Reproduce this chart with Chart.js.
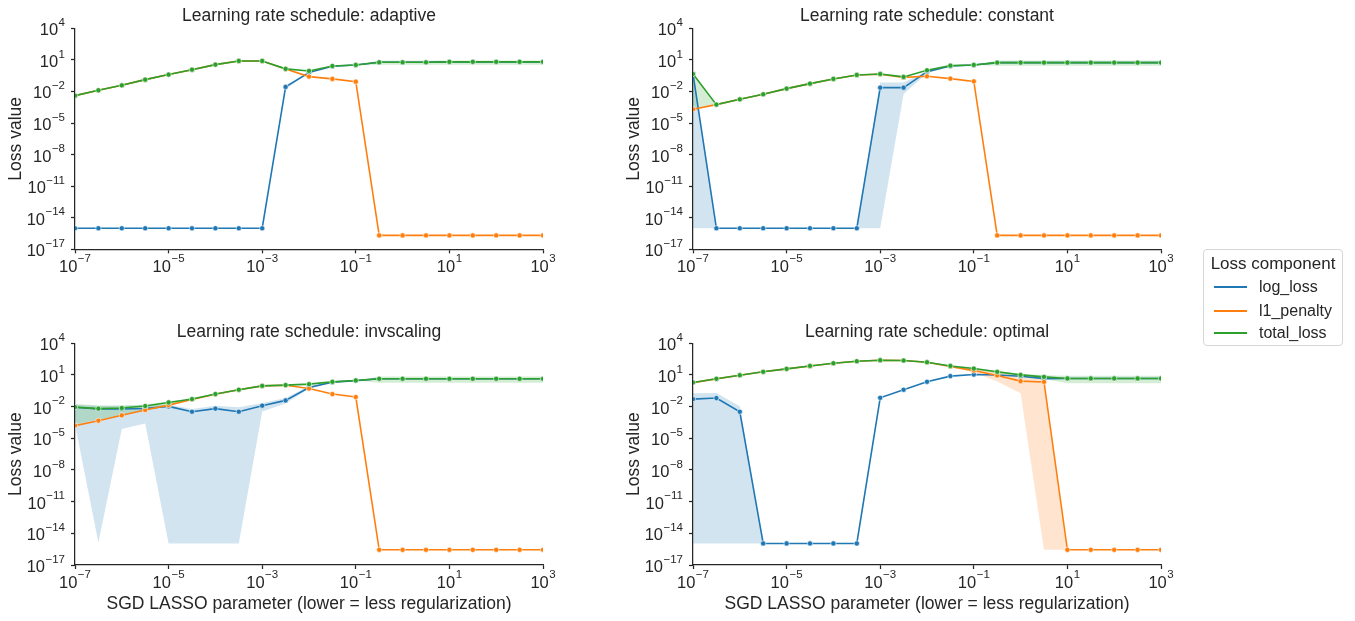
<!DOCTYPE html>
<html>
<head>
<meta charset="utf-8">
<script src="https://cdn.jsdelivr.net/npm/chart.js@4.4.1/dist/chart.umd.min.js"></script>
<style>
  html, body { margin: 0; padding: 0; background: #fff; }
  body { width: 1355px; height: 621px; position: relative; overflow: hidden;
         font-family: "Liberation Sans", Arial, sans-serif; color: #262626; }
  canvas.panel { position: absolute; }
  #legend { position: absolute; left: 1203px; top: 249px; width: 140px; height: 97px;
            box-sizing: border-box; border: 1px solid #d6d6d6; border-radius: 4px; background: #fff; }
  #legend .ttl { position: absolute; left: 0; right: 0; top: 3px; text-align: center; font-size: 17px; line-height: 22px; }
  #legend .row { position: absolute; left: 0; right: 0; height: 20px; }
  #legend .swatch { position: absolute; left: 10px; top: 9px; width: 33px; height: 2px; }
  #legend .lbl { position: absolute; left: 55px; top: 0; font-size: 16px; line-height: 20px; white-space: nowrap; }
</style>
</head>
<body>
<canvas id="c0" class="panel"></canvas>
<canvas id="c1" class="panel"></canvas>
<canvas id="c2" class="panel"></canvas>
<canvas id="c3" class="panel"></canvas>
<div id="legend"></div>
<script>
// Regularization strengths (half-decade grid)
const alphas = [1e-7, 3.162e-7, 1e-6, 3.162e-6, 1e-5, 3.162e-5, 1e-4, 3.162e-4, 1e-3, 3.162e-3,
                1e-2, 3.162e-2, 0.1, 0.3162, 1, 3.162, 10, 31.62, 100, 316.2, 1000];
const xTickValues = [1e-7, 1e-5, 1e-3, 1e-1, 1e1, 1e3];
const yTickValues = [1e4, 1e1, 1e-2, 1e-5, 1e-8, 1e-11, 1e-14, 1e-17];
const seriesNames = ['log_loss', 'l1_penalty', 'total_loss'];
const scheduleNames = ['adaptive', 'constant', 'invscaling', 'optimal'];

// adaptive
const adaptiveLog   = [1e-15, 1e-15, 1e-15, 1e-15, 1e-15, 1e-15, 1e-15, 1e-15, 1e-15, 0.027, 0.63, 2.48, 3.22, 5.9, 5.9, 5.9, 6.5, 6.5, 6.5, 6.5, 6.5];
const adaptiveL1    = [0.0040, 0.0129, 0.038, 0.132, 0.40, 1.17, 3.55, 7.9, 7.9, 1.38, 0.257, 0.155, 0.085, 2.1e-16, 2.1e-16, 2.1e-16, 2.1e-16, 2.1e-16, 2.1e-16, 2.1e-16, 2.1e-16];
const adaptiveTotal = [0.0040, 0.0129, 0.038, 0.132, 0.40, 1.17, 3.55, 7.9, 7.9, 1.40, 0.89, 2.63, 3.31, 5.9, 5.9, 5.9, 6.5, 6.5, 6.5, 6.5, 6.5];
const adaptiveLogLo   = [null, null, null, null, null, null, null, null, null, 0.016, null, null, null, null, null, null, null, null, null, null, null];
const adaptiveLogHi   = [null, null, null, null, null, null, null, null, null, 0.042, null, null, null, null, null, null, null, null, null, null, null];
const adaptiveTotalLo = [null, null, null, null, null, null, null, null, null, null, null, null, null, 3.4, 3.4, 3.4, 3.4, 3.4, 3.4, 3.4, 3.4];
const adaptiveTotalHi = [null, null, null, null, null, null, null, null, null, null, null, null, null, 8.6, 8.6, 8.6, 8.6, 8.6, 8.6, 8.6, 8.6];

// constant
const constantLog   = [0.457, 1e-15, 1e-15, 1e-15, 1e-15, 1e-15, 1e-15, 1e-15, 0.023, 0.023, 0.75, 2.65, 3.22, 5.5, 5.5, 5.5, 5.5, 5.5, 5.5, 5.5, 5.5];
const constantL1    = [2.0e-4, 5.6e-4, 1.78e-3, 5.4e-3, 0.0186, 0.055, 0.155, 0.37, 0.434, 0.217, 0.275, 0.166, 0.091, 2.1e-16, 2.1e-16, 2.1e-16, 2.1e-16, 2.1e-16, 2.1e-16, 2.1e-16, 2.1e-16];
const constantTotal = [0.457, 5.6e-4, 1.78e-3, 5.4e-3, 0.0186, 0.055, 0.155, 0.37, 0.457, 0.24, 1.02, 2.82, 3.31, 5.5, 5.5, 5.5, 5.5, 5.5, 5.5, 5.5, 5.5];
const constantLogLo   = [1e-15, null, null, null, null, null, null, null, 1e-15, 0.0058, 0.55, null, null, null, null, null, null, null, null, null, null];
const constantLogHi   = [0.6, null, null, null, null, null, null, null, 0.069, 0.069, 0.9, null, null, null, null, null, null, null, null, null, null];
const constantTotalLo = [2.5e-4, null, null, null, null, null, null, null, null, null, null, null, null, 2.8, 2.8, 2.8, 2.8, 2.8, 2.8, 2.8, 2.8];
const constantTotalHi = [0.6, null, null, null, null, null, null, null, null, null, null, null, null, 8.5, 8.5, 8.5, 8.5, 8.5, 8.5, 8.5, 8.5];

// invscaling
const invscalingLog   = [8.9e-3, 6.0e-3, 6.0e-3, 6.7e-3, 0.0105, 0.0033, 0.0065, 0.0033, 0.0123, 0.039, 0.66, 2.09, 2.94, 4.37, 4.37, 4.37, 4.37, 4.37, 4.37, 4.37, 4.37];
const invscalingL1    = [1.6e-4, 4.7e-4, 1.5e-3, 4.8e-3, 0.014, 0.048, 0.149, 0.40, 0.92, 1.06, 0.52, 0.155, 0.081, 2.75e-16, 2.75e-16, 2.75e-16, 2.75e-16, 2.75e-16, 2.75e-16, 2.75e-16, 2.75e-16];
const invscalingTotal = [9.1e-3, 6.5e-3, 7.4e-3, 0.0115, 0.025, 0.052, 0.155, 0.40, 0.93, 1.10, 1.35, 2.24, 3.02, 4.37, 4.37, 4.37, 4.37, 4.37, 4.37, 4.37, 4.37];
const invscalingLogLo   = [2e-4, 1.35e-15, 7.8e-5, 2.5e-4, 1.1e-15, 1.1e-15, 1.1e-15, 1.1e-15, 3.5e-3, 0.02, 0.5, null, null, null, null, null, null, null, null, null, null];
const invscalingLogHi   = [0.014, 0.012, 0.012, 0.013, 0.016, 0.0059, 0.0123, 0.009, 0.022, 0.065, 0.85, null, null, null, null, null, null, null, null, null, null];
const invscalingTotalLo = [2.2e-4, 6e-4, 1.5e-3, 4.5e-3, 0.016, null, null, null, null, null, null, null, null, 1.8, 1.8, 1.8, 1.8, 1.8, 1.8, 1.8, 1.8];
const invscalingTotalHi = [0.019, 0.0125, 0.013, 0.016, 0.032, null, null, null, null, null, null, null, null, 7.2, 7.2, 7.2, 7.2, 7.2, 7.2, 7.2, 7.2];

// optimal
const optimalLog   = [0.052, 0.065, 0.0033, 1.1e-15, 1.1e-15, 1.1e-15, 1.1e-15, 1.1e-15, 0.069, 0.40, 2.24, 7.8, 11.0, 10.0, 7.5, 4.5, 4.7, 4.7, 4.7, 4.7, 4.7];
const optimalL1    = [1.9, 4.3, 9.5, 20, 38, 72, 129, 200, 251, 234, 160, 64, 26, 9.0, 2.6, 2.2, 2.75e-16, 2.75e-16, 2.75e-16, 2.75e-16, 2.75e-16];
const optimalTotal = [1.95, 4.37, 9.5, 20, 38, 72, 129, 200, 251, 234, 162, 72, 41, 20, 10.2, 6.6, 4.7, 4.7, 4.7, 4.7, 4.7];
const optimalLogLo   = [1.1e-15, 1.1e-15, 1.1e-15, null, null, null, null, null, null, null, null, null, null, null, null, null, null, null, null, null, null];
const optimalLogHi   = [0.19, 0.2, 0.011, null, null, null, null, null, null, null, null, null, null, null, null, null, null, null, null, null, null];
const optimalL1Lo    = [null, null, null, null, null, null, null, null, null, null, null, 55, 18, 2.4, 0.19, 2.75e-16, null, null, null, null, null];
const optimalL1Hi    = [null, null, null, null, null, null, null, null, null, null, null, 75, 40, 20, 7.2, 3.5, null, null, null, null, null];
const optimalTotalLo = [null, null, null, null, null, null, null, null, null, null, 150, 62, 33, 14, 7, 4.2, 1.6, 1.6, 1.6, 1.6, 1.6];
const optimalTotalHi = [null, null, null, null, null, null, null, null, null, null, 175, 80, 48, 24, 13, 9.5, 8.3, 8.3, 8.3, 8.3, 8.3];

const FONT = '"Liberation Sans", Arial, sans-serif';
const INK = '#262626';
const lineColors = ['#1f77b4', '#ff7f0e', '#2ca02c'];
const bandColors = ['rgba(31,119,180,0.2)', 'rgba(255,127,14,0.2)', 'rgba(44,160,44,0.2)'];

const panels = [
  { name: scheduleNames[0], series: [adaptiveLog, adaptiveL1, adaptiveTotal],
    lo: [adaptiveLogLo, null, adaptiveTotalLo], hi: [adaptiveLogHi, null, adaptiveTotalHi] },
  { name: scheduleNames[1], series: [constantLog, constantL1, constantTotal],
    lo: [constantLogLo, null, constantTotalLo], hi: [constantLogHi, null, constantTotalHi] },
  { name: scheduleNames[2], series: [invscalingLog, invscalingL1, invscalingTotal],
    lo: [invscalingLogLo, null, invscalingTotalLo], hi: [invscalingLogHi, null, invscalingTotalHi] },
  { name: scheduleNames[3], series: [optimalLog, optimalL1, optimalTotal],
    lo: [optimalLogLo, optimalL1Lo, optimalTotalLo], hi: [optimalLogHi, optimalL1Hi, optimalTotalHi] }
];

// Panel geometry (page pixels)
const GEOM = [
  { left: 0,   top: 0,   w: 600, h: 300, plotL: 75,  plotR: 543,  plotT: 28.3,  plotB: 249.3, titleY: 16.5, xLabel: false },
  { left: 618, top: 0,   w: 600, h: 300, plotL: 693, plotR: 1161, plotT: 28.3,  plotB: 249.3, titleY: 16.5, xLabel: false },
  { left: 0,   top: 316, w: 600, h: 305, plotL: 75,  plotR: 543,  plotT: 343.3, plotB: 565,   titleY: 332.5, xLabel: true },
  { left: 618, top: 316, w: 600, h: 305, plotL: 693, plotR: 1161, plotT: 343.3, plotB: 565,   titleY: 332.5, xLabel: true }
];
const TITLE_SIZE = 17.5, LABEL_SIZE = 17.5, TICK_SIZE = 16.5, EXP_SIZE = 11.5;
const X_LABEL_Y = 604, Y_LABEL_X = 16;

Chart.defaults.font.family = FONT;
Chart.defaults.color = INK;

// Tick labels of the form 10^n with a raised exponent
function drawPower(ctx, value, ax, ay, align) {
  const e = Math.round(Math.log10(value));
  const expStr = e < 0 ? '\u2212' + (-e) : String(e);
  ctx.font = TICK_SIZE + 'px ' + FONT;
  const wb = ctx.measureText('10').width;
  ctx.font = EXP_SIZE + 'px ' + FONT;
  const we = ctx.measureText(expStr).width;
  const gap = 0.5;
  const total = wb + gap + we;
  const x0 = align === 'center' ? ax - total / 2 : ax - total;
  ctx.textAlign = 'left';
  ctx.textBaseline = 'middle';
  ctx.font = TICK_SIZE + 'px ' + FONT;
  ctx.fillText('10', x0, ay);
  ctx.font = EXP_SIZE + 'px ' + FONT;
  ctx.fillText(expStr, x0 + wb + gap, ay - 8);
}

const powerTicks = {
  id: 'powerTicks',
  afterDraw(chart) {
    const ctx = chart.ctx;
    const xs = chart.scales.x, ys = chart.scales.y;
    ctx.save();
    ctx.fillStyle = INK;
    xs.ticks.forEach(t => drawPower(ctx, t.value, xs.getPixelForValue(t.value), chart.chartArea.bottom + 18, 'center'));
    ys.ticks.forEach(t => drawPower(ctx, t.value, chart.chartArea.left - 10, ys.getPixelForValue(t.value) + 2.5, 'right'));
    ctx.restore();
  }
};

function points(arr) { return arr.map((v, i) => ({ x: alphas[i], y: v })); }

function buildDatasets(p) {
  const bands = [], lines = [];
  p.series.forEach((vals, k) => {
    const lo = p.lo[k], hi = p.hi[k];
    if (lo && hi) {
      const loVals = vals.map((v, i) => lo[i] ?? v);
      const hiVals = vals.map((v, i) => hi[i] ?? v);
      const common = { borderWidth: 0, pointRadius: 0, pointHoverRadius: 0, order: 93 - k, clip: 0 };
      bands.push({ ...common, label: seriesNames[k] + ' hi', data: points(hiVals), fill: false });
      bands.push({ ...common, label: seriesNames[k] + ' lo', data: points(loVals), fill: '-1', backgroundColor: bandColors[k] });
    }
    lines.push({
      label: seriesNames[k], data: points(vals), fill: false,
      borderColor: lineColors[k], borderWidth: 1.6,
      pointRadius: 2.6, pointBackgroundColor: lineColors[k],
      pointBorderColor: '#ffffff', pointBorderWidth: 0.6,
      order: 30 - k * 10, clip: 0, tension: 0
    });
  });
  return bands.concat(lines);
}

panels.forEach((p, idx) => {
  const g = GEOM[idx];
  const cv = document.getElementById('c' + idx);
  cv.width = g.w; cv.height = g.h;
  cv.style.left = g.left + 'px'; cv.style.top = g.top + 'px';
  cv.style.width = g.w + 'px'; cv.style.height = g.h + 'px';

  const titleLH = TITLE_SIZE * 1.2, labelLH = LABEL_SIZE * 1.2;
  const tPadTop = (g.titleY - g.top) - titleLH / 2;
  const tPadBottom = (g.plotT - g.top) - titleLH - tPadTop;
  const xAxisH = g.h - (g.plotB - g.top);
  const yAxisW = g.plotL - g.left;
  const xTitlePadBottom = g.h - (X_LABEL_Y - g.top) - labelLH / 2;
  const yTitlePad = Y_LABEL_X - labelLH / 2;

  new Chart(cv, {
    type: 'line',
    data: { datasets: buildDatasets(p) },
    plugins: [powerTicks],
    options: {
      responsive: false, animation: false, devicePixelRatio: 1, events: [],
      layout: { padding: { left: 0, top: 0, bottom: 0, right: g.w - (g.plotR - g.left) } },
      plugins: {
        legend: { display: false }, tooltip: { enabled: false },
        title: { display: true, text: 'Learning rate schedule: ' + p.name, fullSize: false,
                 color: INK, font: { size: TITLE_SIZE, weight: 'normal', family: FONT },
                 padding: { top: tPadTop, bottom: tPadBottom } }
      },
      scales: {
        x: {
          type: 'logarithmic', min: 1e-7, max: 1e3,
          afterBuildTicks: s => { s.ticks = xTickValues.map(v => ({ value: v })); },
          afterFit: s => { s.height = xAxisH; },
          ticks: { display: false },
          grid: { display: true, drawOnChartArea: false, drawTicks: true, tickLength: 4, tickWidth: 1.25, tickColor: INK, color: INK },
          border: { display: true, color: INK, width: 1.25 },
          title: { display: g.xLabel, text: 'SGD LASSO parameter (lower = less regularization)',
                   color: INK, font: { size: LABEL_SIZE, family: FONT }, padding: { top: 0, bottom: xTitlePadBottom } }
        },
        y: {
          type: 'logarithmic', min: 1e-17, max: 1e4,
          afterBuildTicks: s => { s.ticks = yTickValues.map(v => ({ value: v })); },
          afterFit: s => { s.width = yAxisW; },
          ticks: { display: false },
          grid: { display: true, drawOnChartArea: false, drawTicks: true, tickLength: 4, tickWidth: 1.25, tickColor: INK, color: INK },
          border: { display: true, color: INK, width: 1.25 },
          title: { display: true, text: 'Loss value', color: INK,
                   font: { size: LABEL_SIZE, family: FONT }, padding: { top: yTitlePad, bottom: 0 } }
        }
      }
    }
  });
});

// Shared legend
const legend = document.getElementById('legend');
const ttl = document.createElement('div');
ttl.className = 'ttl'; ttl.textContent = 'Loss component';
legend.appendChild(ttl);
const rowTops = [27, 51, 72.5];
seriesNames.forEach((name, k) => {
  const row = document.createElement('div');
  row.className = 'row'; row.style.top = rowTops[k] + 'px';
  const sw = document.createElement('div');
  sw.className = 'swatch'; sw.style.background = lineColors[k];
  const lb = document.createElement('div');
  lb.className = 'lbl'; lb.textContent = name;
  row.appendChild(sw); row.appendChild(lb);
  legend.appendChild(row);
});
</script>
</body>
</html>
